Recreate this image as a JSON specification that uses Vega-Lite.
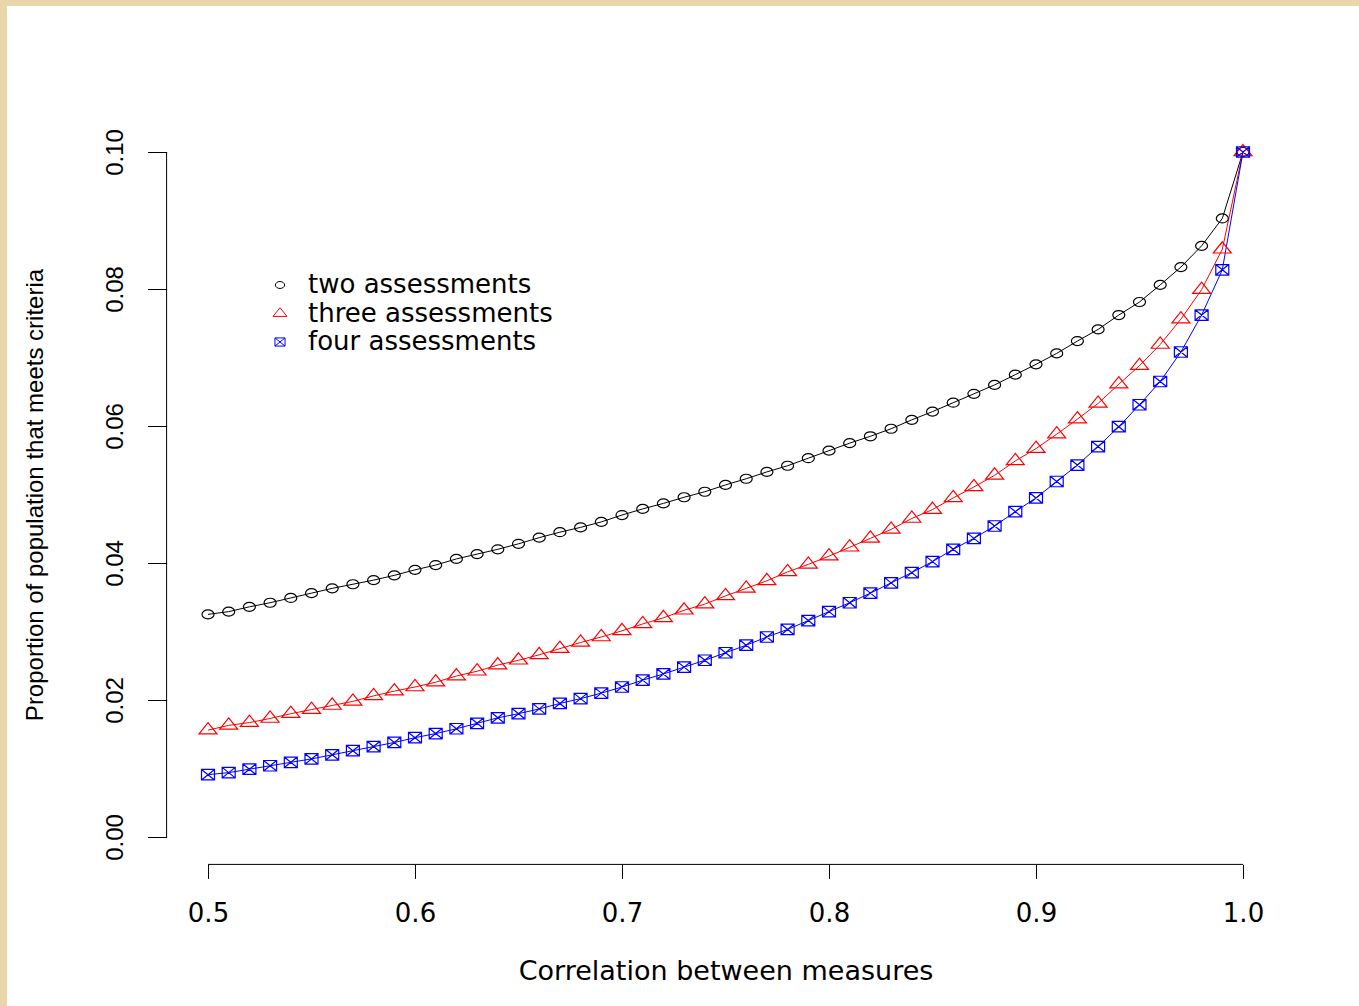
{
  "$schema": "https://vega.github.io/schema/vega-lite/v6.json",
  "width": 1352,
  "height": 1000,
  "autosize": {"type": "none"},
  "padding": {"left": 7, "top": 6, "right": 0, "bottom": 0},
  "background": "#EAD6A9",
  "config": {
    "view": {"fill": "white", "stroke": null},
    "axis": {"grid": false, "domain": false, "tickColor": "black", "tickWidth": 1, "labelColor": "black", "titleColor": "black", "titleFontWeight": "normal"},
    "legend": {"symbolStrokeWidth": 1, "labelFont": "DejaVu Sans", "labelFontSize": 26, "labelColor": "black", "symbolSize": 60, "rowPadding": 2.5, "labelOffset": 15, "labelLimit": 600}
  },
  "layer": [
    {
      "data": {
        "values": [
          {"r": 0.50, "two assessments": 0.0325, "three assessments": 0.0156, "four assessments": 0.0091},
          {"r": 0.51, "two assessments": 0.0329, "three assessments": 0.0163, "four assessments": 0.0094},
          {"r": 0.52, "two assessments": 0.0336, "three assessments": 0.0167, "four assessments": 0.0099},
          {"r": 0.53, "two assessments": 0.0342, "three assessments": 0.0173, "four assessments": 0.0104},
          {"r": 0.54, "two assessments": 0.0349, "three assessments": 0.0180, "four assessments": 0.0109},
          {"r": 0.55, "two assessments": 0.0356, "three assessments": 0.0186, "four assessments": 0.0114},
          {"r": 0.56, "two assessments": 0.0363, "three assessments": 0.0192, "four assessments": 0.0120},
          {"r": 0.57, "two assessments": 0.0369, "three assessments": 0.0198, "four assessments": 0.0126},
          {"r": 0.58, "two assessments": 0.0375, "three assessments": 0.0206, "four assessments": 0.0132},
          {"r": 0.59, "two assessments": 0.0382, "three assessments": 0.0213, "four assessments": 0.0138},
          {"r": 0.60, "two assessments": 0.0390, "three assessments": 0.0219, "four assessments": 0.0145},
          {"r": 0.61, "two assessments": 0.0397, "three assessments": 0.0226, "four assessments": 0.0151},
          {"r": 0.62, "two assessments": 0.0406, "three assessments": 0.0235, "four assessments": 0.0158},
          {"r": 0.63, "two assessments": 0.0413, "three assessments": 0.0242, "four assessments": 0.0166},
          {"r": 0.64, "two assessments": 0.0420, "three assessments": 0.0251, "four assessments": 0.0174},
          {"r": 0.65, "two assessments": 0.0428, "three assessments": 0.0258, "four assessments": 0.0180},
          {"r": 0.66, "two assessments": 0.0437, "three assessments": 0.0266, "four assessments": 0.0187},
          {"r": 0.67, "two assessments": 0.0445, "three assessments": 0.0275, "four assessments": 0.0195},
          {"r": 0.68, "two assessments": 0.0452, "three assessments": 0.0284, "four assessments": 0.0202},
          {"r": 0.69, "two assessments": 0.0460, "three assessments": 0.0292, "four assessments": 0.0210},
          {"r": 0.70, "two assessments": 0.0470, "three assessments": 0.0301, "four assessments": 0.0219},
          {"r": 0.71, "two assessments": 0.0479, "three assessments": 0.0311, "four assessments": 0.0229},
          {"r": 0.72, "two assessments": 0.0487, "three assessments": 0.0320, "four assessments": 0.0238},
          {"r": 0.73, "two assessments": 0.0496, "three assessments": 0.0331, "four assessments": 0.0248},
          {"r": 0.74, "two assessments": 0.0504, "three assessments": 0.0340, "four assessments": 0.0258},
          {"r": 0.75, "two assessments": 0.0514, "three assessments": 0.0352, "four assessments": 0.0269},
          {"r": 0.76, "two assessments": 0.0523, "three assessments": 0.0363, "four assessments": 0.0280},
          {"r": 0.77, "two assessments": 0.0533, "three assessments": 0.0374, "four assessments": 0.0292},
          {"r": 0.78, "two assessments": 0.0542, "three assessments": 0.0387, "four assessments": 0.0303},
          {"r": 0.79, "two assessments": 0.0553, "three assessments": 0.0398, "four assessments": 0.0316},
          {"r": 0.80, "two assessments": 0.0564, "three assessments": 0.0410, "four assessments": 0.0329},
          {"r": 0.81, "two assessments": 0.0575, "three assessments": 0.0423, "four assessments": 0.0342},
          {"r": 0.82, "two assessments": 0.0585, "three assessments": 0.0436, "four assessments": 0.0356},
          {"r": 0.83, "two assessments": 0.0596, "three assessments": 0.0449, "four assessments": 0.0371},
          {"r": 0.84, "two assessments": 0.0609, "three assessments": 0.0465, "four assessments": 0.0386},
          {"r": 0.85, "two assessments": 0.0621, "three assessments": 0.0478, "four assessments": 0.0402},
          {"r": 0.86, "two assessments": 0.0634, "three assessments": 0.0495, "four assessments": 0.0420},
          {"r": 0.87, "two assessments": 0.0647, "three assessments": 0.0511, "four assessments": 0.0436},
          {"r": 0.88, "two assessments": 0.0660, "three assessments": 0.0528, "four assessments": 0.0454},
          {"r": 0.89, "two assessments": 0.0675, "three assessments": 0.0549, "four assessments": 0.0475},
          {"r": 0.90, "two assessments": 0.0690, "three assessments": 0.0567, "four assessments": 0.0495},
          {"r": 0.91, "two assessments": 0.0706, "three assessments": 0.0588, "four assessments": 0.0519},
          {"r": 0.92, "two assessments": 0.0724, "three assessments": 0.0610, "four assessments": 0.0543},
          {"r": 0.93, "two assessments": 0.0741, "three assessments": 0.0633, "four assessments": 0.0570},
          {"r": 0.94, "two assessments": 0.0762, "three assessments": 0.0661, "four assessments": 0.0599},
          {"r": 0.95, "two assessments": 0.0781, "three assessments": 0.0688, "four assessments": 0.0631},
          {"r": 0.96, "two assessments": 0.0806, "three assessments": 0.0719, "four assessments": 0.0665},
          {"r": 0.97, "two assessments": 0.0832, "three assessments": 0.0756, "four assessments": 0.0708},
          {"r": 0.98, "two assessments": 0.0863, "three assessments": 0.0799, "four assessments": 0.0762},
          {"r": 0.99, "two assessments": 0.0903, "three assessments": 0.0858, "four assessments": 0.0828},
          {"r": 1.00, "two assessments": 0.1000, "three assessments": 0.1000, "four assessments": 0.1000}
        ]
      },
      "transform": [
        {"fold": ["two assessments", "three assessments", "four assessments"], "as": ["series", "p"]}
      ],
      "encoding": {
        "x": {
          "field": "r", "type": "quantitative",
          "scale": {"domain": [0.402899, 1.056039], "nice": false, "zero": false},
          "axis": {
            "orient": "bottom", "offset": -141.6, "values": [0.5, 0.6, 0.7, 0.8, 0.9, 1.0], "format": ".1f",
            "tickSize": 14, "labelFont": "DejaVu Sans", "labelFontSize": 26, "labelPadding": 22,
            "title": "Correlation between measures", "titleFont": "DejaVu Sans", "titleFontSize": 27,
            "titleX": 718.5, "titleY": 114.6, "titleBaseline": "alphabetic", "titleAlign": "center", "titleAnchor": null
          }
        },
        "y": {
          "field": "p", "type": "quantitative",
          "scale": {"domain": [-0.024671, 0.121314], "nice": false, "zero": false},
          "axis": {
            "orient": "left", "offset": -159.6, "values": [0, 0.02, 0.04, 0.06, 0.08, 0.1], "format": ".2f",
            "tickSize": 19, "labelFont": "Liberation Sans", "labelFontSize": 24, "labelAngle": -90,
            "labelAlign": "center", "labelBaseline": "alphabetic", "labelPadding": 25,
            "title": "Proportion of population that meets criteria", "titleFont": "Liberation Sans", "titleFontSize": 24,
            "titleAngle": -90, "titleX": -124.6, "titleY": 488.5, "titleBaseline": "alphabetic", "titleAlign": "center", "titleAnchor": null
          }
        }
      },
      "layer": [
        {
          "transform": [{"filter": "datum.series == 'two assessments'"}],
          "mark": {"type": "line", "strokeWidth": 1, "color": "#000000"}
        },
        {
          "transform": [{"filter": "datum.series == 'three assessments'"}],
          "mark": {"type": "line", "strokeWidth": 1, "color": "#FF0000"}
        },
        {
          "transform": [{"filter": "datum.series == 'four assessments'"}],
          "mark": {"type": "line", "strokeWidth": 1, "color": "#0000FF"}
        },
        {
          "mark": {"type": "point", "filled": false, "strokeWidth": 1.2, "size": 100, "opacity": 1},
          "encoding": {
            "color": {"field": "series", "type": "nominal",
              "scale": {"domain": ["two assessments", "three assessments", "four assessments"], "range": ["#000000", "#FF0000", "#0000FF"]},
              "legend": {"orient": "none", "legendX": 260, "legendY": 266, "title": null}},
            "shape": {"field": "series", "type": "nominal",
              "scale": {"domain": ["two assessments", "three assessments", "four assessments"],
                "range": ["M-1.2,0A1.2,0.9,0,1,0,1.2,0A1.2,0.9,0,1,0,-1.2,0Z", "M0,-1.5L1.8,0.75L-1.8,0.75Z", "M-1.3,-1.05H1.3V1.05H-1.3Z M-1.3,-1.05L1.3,1.05 M1.3,-1.05L-1.3,1.05"]},
              "legend": {"orient": "none", "legendX": 260, "legendY": 266, "title": null}}
          }
        }
      ]
    },
    {
      "data": {"values": [{"k": 1}]},
      "mark": {"type": "rule", "color": "black", "strokeWidth": 1},
      "encoding": {"x": {"datum": 0.5, "type": "quantitative"}, "x2": {"datum": 1.0}, "y": {"datum": -0.004, "type": "quantitative"}}
    },
    {
      "data": {"values": [{"k": 1}]},
      "mark": {"type": "rule", "color": "black", "strokeWidth": 1},
      "encoding": {"x": {"datum": 0.48, "type": "quantitative"}, "y": {"datum": 0, "type": "quantitative"}, "y2": {"datum": 0.1}}
    }
  ]
}
